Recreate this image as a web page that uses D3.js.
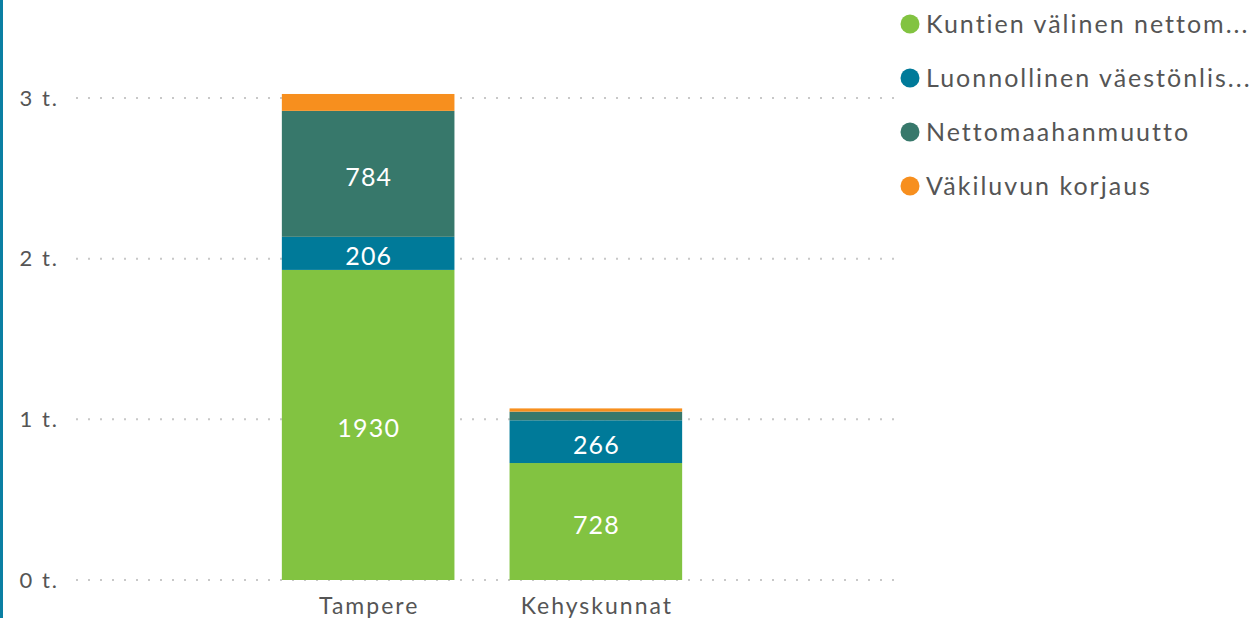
<!DOCTYPE html>
<html><head><meta charset="utf-8">
<script src="https://cdn.jsdelivr.net/npm/d3@7"></script>
<style>body{margin:0;background:#fff;overflow:hidden}svg{display:block}text{font-family:Lato,"Open Sans",sans-serif}</style>
</head><body>
<svg id="c" width="1255" height="618"></svg>
<script>
const categories = ["Tampere", "Kehyskunnat"];
const seriesNames = ["Kuntien välinen nettomuutto", "Luonnollinen väestönlisäys", "Nettomaahanmuutto", "Väkiluvun korjaus"];
const legendLabels = ["Kuntien välinen nettom...", "Luonnollinen väestönlis...", "Nettomaahanmuutto", "Väkiluvun korjaus"];
const kuntien = [1930, 728];
const luonnollinen = [206, 266];
const nettomaahanmuutto = [784, 54];
const korjaus = [105, 20];
const yTicks = [0, 1000, 2000, 3000];
const yTickLabels = ["0 t.", "1 t.", "2 t.", "3 t."];
const colors = ["#82c341", "#007a99", "#37786b", "#f78f1e"];

const svg = d3.select("#c");
svg.append("rect").attr("x",0).attr("y",0).attr("width",3).attr("height",618).attr("fill","#0a7fa3");

const y = d3.scaleLinear().domain([0,3000]).range([580,98]);
const x = d3.scaleBand().domain(categories).range([168,796]).paddingInner(0.242).paddingOuter(0.5);

const g = svg.append("g");
yTicks.forEach((t,i)=>{
  g.append("line").attr("x1",76).attr("x2",900).attr("y1",y(t)).attr("y2",y(t))
    .attr("stroke","#c8c8c8").attr("stroke-width",2).attr("stroke-dasharray","2,10");
  g.append("text").attr("x",59).attr("y",y(t)).attr("dy","0.35em").attr("text-anchor","end")
    .attr("font-size",22).attr("letter-spacing",2).attr("fill","#555").text(yTickLabels[i]);
});

const rows = categories.map((c,i)=>({cat:c, s0:kuntien[i], s1:luonnollinen[i], s2:nettomaahanmuutto[i], s3:korjaus[i]}));
const stack = d3.stack().keys(["s0","s1","s2","s3"])(rows);
stack.forEach((layer,li)=>{
  layer.forEach(d=>{
    svg.append("rect").attr("x",x(d.data.cat)).attr("width",x.bandwidth())
      .attr("y",y(d[1])).attr("height",y(d[0])-y(d[1])).attr("fill",colors[li]);
    const h = y(d[0])-y(d[1]);
    if (h > 25) {
      svg.append("text").attr("x",x(d.data.cat)+x.bandwidth()/2+0.6).attr("y",(y(d[0])+y(d[1]))/2+3)
        .attr("dy","0.36em").attr("text-anchor","middle").attr("font-size",25).attr("letter-spacing",1.2).attr("fill","#fff")
        .text(d[1]-d[0]);
    }
  });
});

categories.forEach(c=>{
  svg.append("text").attr("x",x(c)+x.bandwidth()/2+1).attr("y",614).attr("text-anchor","middle")
    .attr("font-size",23).attr("letter-spacing",2).attr("fill","#555").text(c);
});

legendLabels.forEach((l,i)=>{
  const cy = 24 + i*54;
  svg.append("circle").attr("cx",910).attr("cy",cy).attr("r",9.5).attr("fill",colors[i]);
  svg.append("text").attr("x",926).attr("y",cy).attr("dy","0.36em").attr("font-size",25).attr("letter-spacing",2).attr("fill","#555").text(l);
});
</script>
</body></html>
